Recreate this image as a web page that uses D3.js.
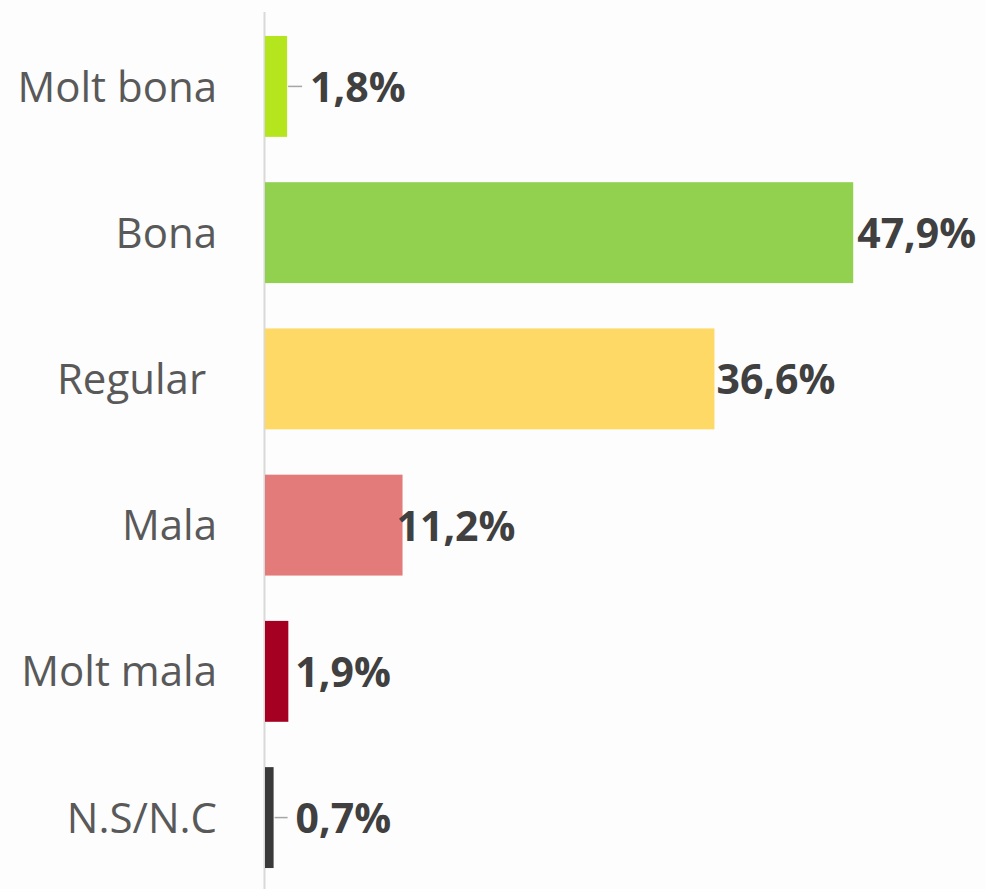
<!DOCTYPE html>
<html>
<head>
<meta charset="utf-8">
<script src="https://cdn.jsdelivr.net/npm/d3@7"></script>
<style>
  html, body { margin: 0; padding: 0; background: #fdfdfd; }
  text { white-space: pre; }
</style>
</head>
<body>
<div id="main-container"></div>
<script>
// DATA
const categories = ["Molt bona", "Bona", "Regular ", "Mala", "Molt mala", "N.S/N.C"];
const values = [1.8, 47.9, 36.6, 11.2, 1.9, 0.7];
const valueLabels = ["1,8%", "47,9%", "36,6%", "11,2%", "1,9%", "0,7%"];
const barColours = ["#b5e61d", "#92d050", "#ffd966", "#e47b7b", "#a50021", "#3a3a3a"];

// label placement tweaks (leader lines where the bar is tiny)
const labelDx = [23, 4, 2, -6, 7, 22];
const hasLeader = [true, false, false, false, false, true];

const width = 986, height = 889;

const svg = d3.select("#main-container")
    .append("svg")
        .attr("width", width)
        .attr("height", height);

const data = categories.map((c, i) => ({
    cat: c, value: values[i], label: valueLabels[i],
    colour: barColours[i], dx: labelDx[i], leader: hasLeader[i]
}));

const x = d3.scaleLinear()
    .domain([0, 50])
    .range([265, 879]);

const y = d3.scaleBand()
    .domain(categories)
    .range([13.3, 890.7])
    .paddingInner(0.31)
    .paddingOuter(0.155);

// axis line
svg.append("line")
    .attr("x1", 264.5).attr("x2", 264.5)
    .attr("y1", 12).attr("y2", height)
    .attr("stroke", "#d9d9d9")
    .attr("stroke-width", 2);

// bars
svg.selectAll(".bar")
    .data(data)
    .enter()
    .append("rect")
    .attr("class", "bar")
    .attr("x", x(0))
    .attr("y", (d) => { return y(d.cat); })
    .attr("width", (d) => { return x(d.value) - x(0); })
    .attr("height", y.bandwidth())
    .style("fill", (d) => { return d.colour; });

// category labels
svg.selectAll(".cat")
    .data(data)
    .enter()
    .append("text")
    .attr("class", "cat")
    .attr("x", 217)
    .attr("y", (d) => { return y(d.cat) + y.bandwidth() / 2; })
    .attr("dy", "0.36em")
    .attr("text-anchor", "end")
    .style("font-family", "'Open Sans', sans-serif")
    .style("font-size", "42px")
    .style("fill", "#595959")
    .text((d) => { return d.cat; });

// leader lines
svg.selectAll(".leader")
    .data(data.filter((d) => d.leader))
    .enter()
    .append("line")
    .attr("class", "leader")
    .attr("x1", (d) => { return x(d.value) + 1; })
    .attr("x2", (d) => { return x(d.value) + d.dx - 8; })
    .attr("y1", (d) => { return y(d.cat) + y.bandwidth() / 2; })
    .attr("y2", (d) => { return y(d.cat) + y.bandwidth() / 2; })
    .attr("stroke", "#a6a6a6")
    .attr("stroke-width", 1.5);

// value labels
svg.selectAll(".val")
    .data(data)
    .enter()
    .append("text")
    .attr("class", "val")
    .attr("x", (d) => { return x(d.value) + d.dx; })
    .attr("y", (d) => { return y(d.cat) + y.bandwidth() / 2; })
    .attr("dy", "0.38em")
    .style("font-family", "'Open Sans', sans-serif")
    .style("font-weight", "bold")
    .style("font-size", "41px")
    .style("fill", "#404040")
    .text((d) => { return d.label; });
</script>
</body>
</html>
